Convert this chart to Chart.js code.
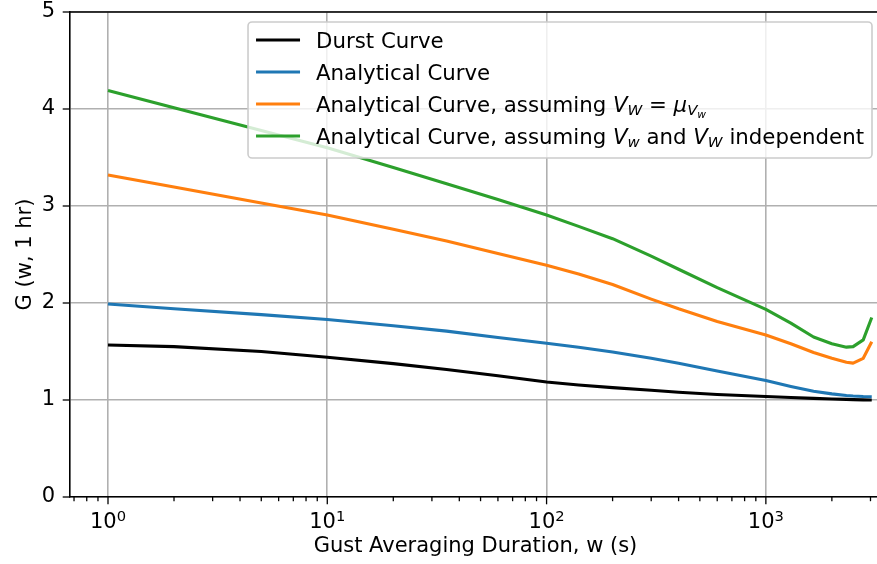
<!DOCTYPE html>
<html>
<head>
<meta charset="utf-8">
<script src="https://cdn.jsdelivr.net/npm/chart.js@4.4.0/dist/chart.umd.min.js"></script>
<style>
    html, body { margin: 0; padding: 0; background: #fff; overflow: hidden; }
    #wrap { width: 885px; height: 564px; }
</style>
</head>
<body>
<div id="wrap"><canvas id="gustChart"></canvas></div>
<script>
/* Data */
let durations = [1, 2, 5, 10, 20, 35, 60, 100, 140, 200, 300, 400, 600, 1000, 1300, 1650, 2000, 2330, 2500, 2780, 3040];
let durst = [1.567, 1.55, 1.50, 1.44, 1.375, 1.315, 1.25, 1.185, 1.155, 1.128, 1.10, 1.08, 1.057, 1.036, 1.026, 1.017, 1.01, 1.006, 1.004, 1.001, 1.0];
let analytical = [1.99, 1.94, 1.88, 1.83, 1.765, 1.71, 1.645, 1.585, 1.543, 1.495, 1.43, 1.378, 1.30, 1.20, 1.14, 1.09, 1.063, 1.046, 1.041, 1.036, 1.034];
let meanSpeed = [3.32, 3.195, 3.03, 2.907, 2.76, 2.64, 2.51, 2.39, 2.30, 2.19, 2.04, 1.94, 1.81, 1.67, 1.58, 1.49, 1.43, 1.39, 1.38, 1.43, 1.60];
let independent = [4.19, 4.012, 3.778, 3.60, 3.398, 3.23, 3.066, 2.907, 2.79, 2.663, 2.483, 2.348, 2.158, 1.935, 1.793, 1.65, 1.58, 1.545, 1.55, 1.62, 1.85];

let seriesNames = ["Durst Curve", "Analytical Curve",
    "Analytical Curve, assuming V_W = mu_V_w",
    "Analytical Curve, assuming V_w and V_W independent"];
let seriesColors = ["#000000", "#1f77b4", "#ff7f0e", "#2ca02c"];

let majorTicks = [1, 10, 100, 1000];
let minorTicks = [0.7, 0.8, 0.9, 2, 3, 4, 5, 6, 7, 8, 9, 20, 30, 40, 50, 60, 70, 80, 90,
    200, 300, 400, 500, 600, 700, 800, 900, 2000, 3000];
let yTicks = [0, 1, 2, 3, 4, 5];

/* legend text with math pieces (it = italic, lvl = subscript level) */
let legendLabels = [
    [{t: "Durst Curve"}],
    [{t: "Analytical Curve"}],
    [{t: "Analytical Curve, assuming "}, {t: "V", it: 1}, {t: "W", it: 1, lvl: 1}, {t: " = "},
        {t: "μ", it: 1}, {t: "V", it: 1, lvl: 1}, {t: "w", it: 1, lvl: 2}],
    [{t: "Analytical Curve, assuming "}, {t: "V", it: 1}, {t: "w", it: 1, lvl: 1}, {t: " and "},
        {t: "V", it: 1}, {t: "W", it: 1, lvl: 1}, {t: " independent"}]
];

const FONT = "'DejaVu Sans', sans-serif";
const FS = 21;
const LEGEND_FS = 21.3;

function pairs(values) {
    return durations.map((w, i) => ({x: w, y: values[i]}));
}

/* Rich text helpers */
function segFont(s) {
    const size = LEGEND_FS * [1, 0.7, 0.5][s.lvl || 0];
    return (s.it ? "italic " : "") + size + "px " + FONT;
}
function segShift(s) {
    return [0, 3, 6][s.lvl || 0];
}
function richWidth(ctx, segs) {
    let w = 0;
    segs.forEach(s => { ctx.font = segFont(s); w += ctx.measureText(s.t).width; });
    return w;
}
function drawRich(ctx, segs, x, baseline) {
    segs.forEach(s => {
        ctx.font = segFont(s);
        ctx.fillText(s.t, x, baseline + segShift(s));
        x += ctx.measureText(s.t).width;
    });
}

/* Frame, ticks, tick labels and legend */
const framePlugin = {
    id: "frame",
    afterDraw(chart) {
        const ctx = chart.ctx;
        const a = chart.chartArea;
        const xs = chart.scales.x;
        const ys = chart.scales.y;
        ctx.save();

        // top and right spines
        ctx.strokeStyle = "#000";
        ctx.lineWidth = 1.6;
        ctx.beginPath();
        ctx.moveTo(a.left - 0.8, a.top);
        ctx.lineTo(a.right, a.top);
        ctx.lineTo(a.right, a.bottom);
        ctx.stroke();

        // x tick marks
        ctx.lineWidth = 1.3;
        majorTicks.concat(minorTicks).forEach(v => {
            const px = xs.getPixelForValue(v);
            const len = majorTicks.includes(v) ? 7.3 : 4.2;
            ctx.beginPath();
            ctx.moveTo(px, a.bottom);
            ctx.lineTo(px, a.bottom + len);
            ctx.stroke();
        });
        // y tick marks
        yTicks.forEach(v => {
            const py = ys.getPixelForValue(v);
            ctx.beginPath();
            ctx.moveTo(a.left, py);
            ctx.lineTo(a.left - 7.3, py);
            ctx.stroke();
        });

        // x tick labels 10^n
        ctx.fillStyle = "#000";
        ctx.textAlign = "left";
        ctx.textBaseline = "alphabetic";
        majorTicks.forEach(v => {
            const px = xs.getPixelForValue(v);
            const exp = String(Math.round(Math.log10(v)));
            ctx.font = FS + "px " + FONT;
            const bw = ctx.measureText("10").width;
            ctx.font = (FS * 0.7) + "px " + FONT;
            const ew = ctx.measureText(exp).width;
            const x0 = px - (bw + ew) / 2;
            const base = a.bottom + 31;
            ctx.font = FS + "px " + FONT;
            ctx.fillText("10", x0, base);
            ctx.font = (FS * 0.7) + "px " + FONT;
            ctx.fillText(exp, x0 + bw, base - 6.6);
        });

        // legend
        let maxW = 0;
        legendLabels.forEach(segs => { maxW = Math.max(maxW, richWidth(ctx, segs)); });
        const boxW = 8 + 44 + 16 + maxW + 8;
        const boxH = 136;
        const bx = a.right - 9 - boxW;
        const by = a.top + 10;
        ctx.beginPath();
        ctx.roundRect(bx, by, boxW, boxH, 4);
        ctx.fillStyle = "rgba(255,255,255,0.8)";
        ctx.fill();
        ctx.strokeStyle = "#cccccc";
        ctx.lineWidth = 1.6;
        ctx.stroke();

        legendLabels.forEach((segs, i) => {
            const cy = by + 18 + i * 32;
            ctx.strokeStyle = seriesColors[i];
            ctx.lineWidth = 3.1;
            ctx.beginPath();
            ctx.moveTo(bx + 8, cy);
            ctx.lineTo(bx + 52, cy);
            ctx.stroke();
            ctx.fillStyle = "#000";
            drawRich(ctx, segs, bx + 68, cy + 7.5);
        });

        ctx.restore();
    }
};

/* Gust factor chart */
new Chart("gustChart", {
    type: "line",
    data: {
        datasets: [durst, analytical, meanSpeed, independent].map((vals, i) => ({
            label: seriesNames[i],
            data: pairs(vals),
            borderColor: seriesColors[i],
            backgroundColor: seriesColors[i],
            borderWidth: 3.1,
            pointRadius: 0,
            tension: 0,
            borderJoinStyle: "round",
            fill: false,
            order: 4 - i
        }))
    },
    options: {
        responsive: true,
        maintainAspectRatio: false,
        animation: false,
        layout: { padding: { top: 12, right: 4, left: 0, bottom: 0 } },
        plugins: {
            legend: { display: false },
            tooltip: { enabled: false }
        },
        scales: {
            x: {
                type: "logarithmic",
                min: 0.671,
                max: 3350,
                afterBuildTicks: s => { s.ticks = majorTicks.concat(minorTicks).map(v => ({value: v})); },
                afterFit: s => { s.height = 67; s.paddingLeft = 0; s.paddingRight = 0; },
                grid: {
                    color: c => (c.tick && majorTicks.includes(c.tick.value)) ? "#b0b0b0" : "rgba(0,0,0,0)",
                    lineWidth: 1.6,
                    drawTicks: false
                },
                border: { color: "#000", width: 1.6 },
                ticks: { display: false, autoSkip: false },
                title: {
                    display: true,
                    text: "Gust Averaging Duration, w (s)",
                    color: "#000",
                    font: { family: FONT, size: FS },
                    padding: { top: 0, bottom: 5 }
                }
            },
            y: {
                min: 0,
                max: 5,
                afterBuildTicks: s => { s.ticks = yTicks.map(v => ({value: v})); },
                afterFit: s => { s.width = 70; s.paddingTop = 0; s.paddingBottom = 0; },
                grid: { color: "#b0b0b0", lineWidth: 1.6, drawTicks: false },
                border: { color: "#000", width: 1.6 },
                ticks: { padding: 15, color: "#000", font: { family: FONT, size: FS } },
                title: {
                    display: true,
                    text: "G (w, 1 hr)",
                    color: "#000",
                    font: { family: FONT, size: FS },
                    padding: { top: 13, bottom: 0 }
                }
            }
        }
    },
    plugins: [framePlugin]
});
</script>
</body>
</html>
